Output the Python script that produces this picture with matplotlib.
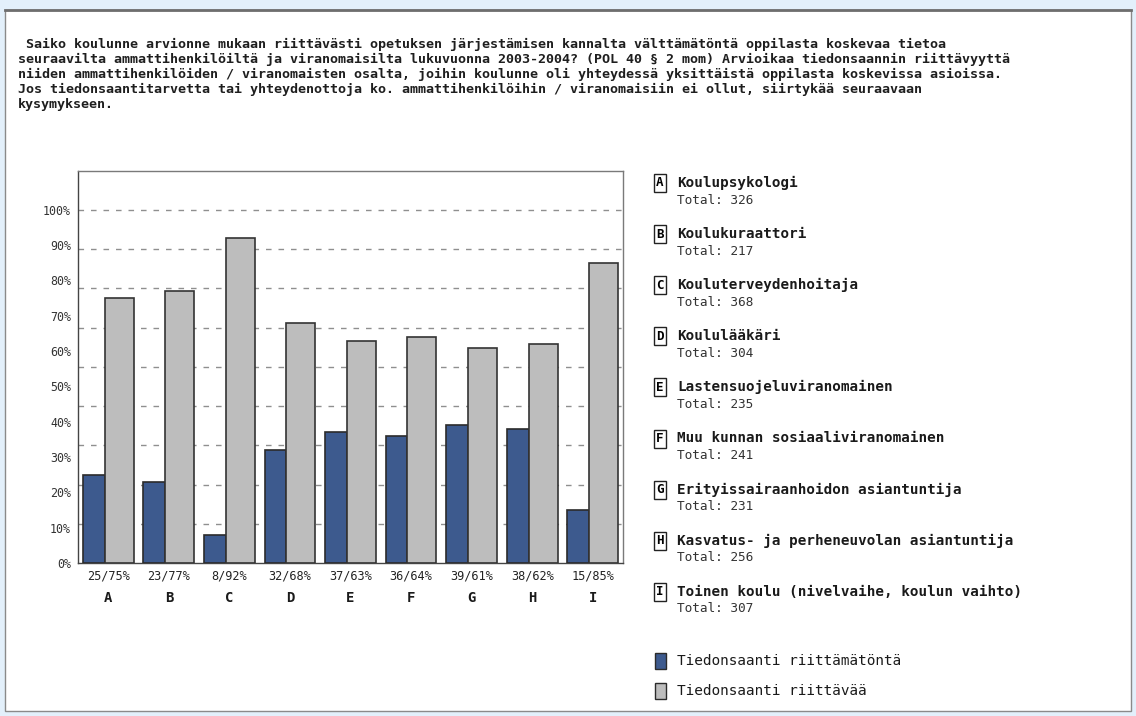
import numpy as np
import matplotlib
matplotlib.use("Agg")
import matplotlib.pyplot as plt
from matplotlib.patches import Rectangle

# data
letters = ["A", "B", "C", "D", "E", "F", "G", "H", "I"]
names = ["Koulupsykologi", "Koulukuraattori", "Kouluterveydenhoitaja", "Koululääkäri",
         "Lastensuojeluviranomainen", "Muu kunnan sosiaaliviranomainen",
         "Erityissairaanhoidon asiantuntija", "Kasvatus- ja perheneuvolan asiantuntija",
         "Toinen koulu (nivelvaihe, koulun vaihto)"]
totals = [326, 217, 368, 304, 235, 241, 231, 256, 307]
riittamaton = [25, 23, 8, 32, 37, 36, 39, 38, 15]
riittava = [75, 77, 92, 68, 63, 64, 61, 62, 85]
series_names = ["Tiedonsaanti riittämätöntä", "Tiedonsaanti riittävää"]
ytick_vals = [0, 10, 20, 30, 40, 50, 60, 70, 80, 90, 100]

title_lines = [
    " Saiko koulunne arvionne mukaan riittävästi opetuksen järjestämisen kannalta välttämätöntä oppilasta koskevaa tietoa",
    "seuraavilta ammattihenkilöiltä ja viranomaisilta lukuvuonna 2003-2004? (POL 40 § 2 mom) Arvioikaa tiedonsaannin riittävyyttä",
    "niiden ammattihenkilöiden / viranomaisten osalta, joihin koulunne oli yhteydessä yksittäistä oppilasta koskevissa asioissa.",
    "Jos tiedonsaantitarvetta tai yhteydenottoja ko. ammattihenkilöihin / viranomaisiin ei ollut, siirtykää seuraavaan",
    "kysymykseen.",
]

BLUE = "#3d5a8e"
GRAY = "#bdbdbd"
EDGE = "#2b2b2b"
MONO = "DejaVu Sans Mono"

W, H = 1136, 716
fig = plt.figure(figsize=(W / 100, H / 100), dpi=100)
fig.patch.set_facecolor("#e3f0fb")
renderer = fig.canvas.get_renderer()


def px(x, y):  # pixel -> figure fraction
    return x / W, 1 - y / H


def fit_size(text, width_px, weight="normal"):
    # font size that makes text about width_px wide
    t = fig.text(0, 0, text, fontsize=10, family=MONO, fontweight=weight)
    w = t.get_window_extent(renderer).width
    t.remove()
    return 10 * width_px / w


# white panel
fig.add_artist(Rectangle(px(5, 711), 1126 / W, 701 / H, transform=fig.transFigure,
                         facecolor="white", edgecolor="#8a8a8a", lw=1, zorder=0))
fig.add_artist(plt.Line2D([5 / W, 1131 / W], [1 - 10 / H] * 2, transform=fig.transFigure,
                          color="#6e6e6e", lw=2))

# question text
fs_title = fit_size(title_lines[1], 1000, "bold")
for i, line in enumerate(title_lines):
    fig.text(*px(18, 44 + i * 15.2), line, fontsize=fs_title, family=MONO,
             fontweight="bold", color="#1e1e1e", va="center", ha="left")

# bar chart
ax = fig.add_axes([78 / W, 1 - 563 / H, 545 / W, 392 / H])
x = np.arange(len(letters))
ax.bar(x + 0.08, riittamaton, width=0.36, align="edge", color=BLUE, edgecolor=EDGE,
       lw=1.2, zorder=3)
ax.bar(x + 0.44, riittava, width=0.48, align="edge", color=GRAY, edgecolor="#333333",
       lw=1.2, zorder=3)
for k in range(1, 10):
    ax.axhline(100 * k / 9, color="#8f8f8f", lw=1, ls=(0, (4, 5)), zorder=1)
ax.set_xlim(0, 9)
ax.set_ylim(0, 111)
ax.set_yticks(ytick_vals)
ax.set_yticklabels([f"{v}%" for v in ytick_vals], family=MONO, fontsize=8.4, color="#333333")
ax.set_xticks(x + 0.5)
ax.set_xticklabels([f"{a}/{b}%" for a, b in zip(riittamaton, riittava)],
                   family=MONO, fontsize=8.6, color="#222222")
ax.tick_params(length=0, pad=5)
for xi, l in zip(x, letters):
    ax.text(xi + 0.5, -10, l, ha="center", va="center", family=MONO, fontweight="bold",
            fontsize=10, color="#1a1a1a")
for s in ax.spines.values():
    s.set_color("#7a7a7a")
    s.set_linewidth(1)
ax.spines["left"].set_color("#444444")
ax.spines["bottom"].set_color("#444444")

# category legend
fs_name = fit_size(names[8], 345, "bold")
fs_tot = fit_size("Total: 326", 77)
for i, (l, n, t) in enumerate(zip(letters, names, totals)):
    y0 = 183 + i * 51.1
    fig.text(*px(660, y0), l, fontsize=9, family=MONO, fontweight="bold", ha="center",
             va="center", bbox=dict(boxstyle="square,pad=0.2", fc="white", ec="#222222", lw=1))
    fig.text(*px(677, y0), n, fontsize=fs_name, family=MONO, fontweight="bold", va="center",
             color="#1a1a1a")
    fig.text(*px(677, y0 + 17), f"Total: {t}", fontsize=fs_tot, family=MONO, va="center",
             color="#333333")

# series legend
fs_ser = fit_size(series_names[0], 225)
for i, (nm, c) in enumerate(zip(series_names, [BLUE, GRAY])):
    yc = 661 + i * 30
    fig.add_artist(Rectangle(px(655, yc + 8), 11 / W, 16 / H, transform=fig.transFigure,
                             facecolor=c, edgecolor=EDGE, lw=1))
    fig.text(*px(677, yc), nm, fontsize=fs_ser, family=MONO, va="center", color="#1a1a1a")

fig.savefig("out.png", dpi=100, facecolor=fig.get_facecolor())
